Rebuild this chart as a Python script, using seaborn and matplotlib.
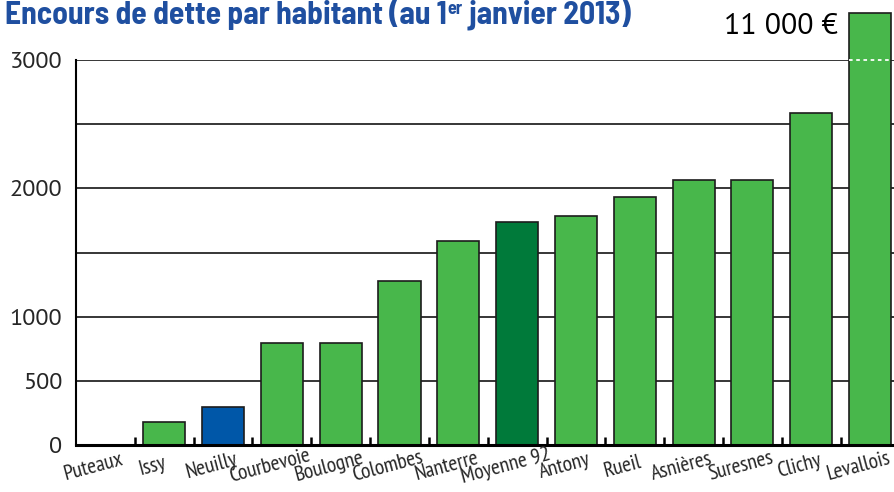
import matplotlib
matplotlib.use("Agg")
import matplotlib.pyplot as plt
import seaborn as sns
import pandas as pd
from matplotlib.ticker import FixedLocator

# ---- data ----
cities = ["Puteaux", "Issy", "Neuilly", "Courbevoie", "Boulogne", "Colombes",
          "Nanterre", "Moyenne 92", "Antony", "Rueil", "Asnières", "Suresnes",
          "Clichy", "Levallois"]
debt = [0, 182, 294, 797, 797, 1278, 1590, 1740, 1785, 1930, 2063, 2065, 2585, 11000]
ytick_values = [0, 500, 1000, 2000, 3000]
grid_values = [500, 1000, 1500, 2000, 2500, 3000]
title_main = "Encours de dette par habitant (au 1"
title_sup = "er"
title_end = " janvier 2013)"
levallois_label = "11 000 €"

# ---- style ----
GREEN = "#48b74b"
DARK_GREEN = "#007a3a"
BLUE = "#0057a8"
TITLE_BLUE = "#1f4fa0"
colors = {c: GREEN for c in cities}
colors["Neuilly"] = BLUE
colors["Moyenne 92"] = DARK_GREEN
display_cap = 3370  # broken bar drawn above the axis for off-scale value

REG = ["PT Sans", "Open Sans", "DejaVu Sans"]
NARROW = ["PT Sans Narrow", "Archivo Narrow", "Asap Condensed", "DejaVu Sans"]
TITLEF = ["Barlow Semi Condensed", "Barlow Condensed", "DejaVu Sans"]

sns.set_theme(style="white")
plt.rcParams["font.family"] = REG

df = pd.DataFrame({"ville": cities,
                   "dette": [min(v, display_cap) for v in debt]})

fig = plt.figure(figsize=(8.94, 4.92), dpi=100)
ax = fig.add_axes([76 / 894, 47 / 492, (899.5 - 76) / 894, (445 - 60) / 492])

for g in grid_values:
    ax.axhline(g, color="black", lw=1.1, zorder=0)

sns.barplot(data=df, x="ville", y="dette", hue="ville", palette=colors,
            legend=False, width=0.715, edgecolor="#1c1c1c", linewidth=1.2,
            saturation=1, ax=ax, zorder=2)
for p in ax.patches:
    p.set_clip_on(False)

ax.set_ylim(0, 3000)
ax.set_xlim(-0.5, len(cities) - 0.5)
ax.set_xlabel("")
ax.set_ylabel("")

# white dotted line on the broken bar at the 3000 level
ax.plot([len(cities) - 1 - 0.36, len(cities) - 1 + 0.36], [3000, 3000],
        color="white", lw=1.3, ls=(0, (2, 2)), zorder=3, clip_on=False)

ax.text(len(cities) - 1.54, 3262, levallois_label, ha="right", va="center",
        fontsize=21.5, color="black", clip_on=False, family=REG)

# y axis
ax.set_yticks(ytick_values)
ax.set_yticklabels([str(v) for v in ytick_values], fontsize=17.5, family=REG)
ax.tick_params(axis="y", length=0, pad=10)

# x axis: labels at centres, small ticks at boundaries
ax.set_xticks(range(len(cities)))
ax.set_xticklabels([])
ax.xaxis.set_minor_locator(FixedLocator([i + 0.5 for i in range(len(cities) - 1)]))
ax.tick_params(axis="x", which="major", length=0)
ax.tick_params(axis="x", which="minor", direction="in", length=6, width=1.8,
               color="black", bottom=True)
for i, c in enumerate(cities):
    ax.text(i - 0.24, -95, c, rotation=15, rotation_mode="anchor",
            ha="center", va="top", fontsize=15.5, family=NARROW,
            transform=ax.transData, clip_on=False)

for s in ["top", "right"]:
    ax.spines[s].set_visible(False)
ax.spines["left"].set_color("black")
ax.spines["left"].set_linewidth(1.5)
ax.spines["bottom"].set_color("black")
ax.spines["bottom"].set_linewidth(2.2)

# title with superscript, pieces placed by measuring
tfont = dict(fontsize=22.7, fontweight="bold", color=TITLE_BLUE, family=TITLEF)
base_y = 1 - 24 / 492
t1 = fig.text(5 / 894, base_y, title_main, ha="left", va="baseline", **tfont)
r = fig.canvas.get_renderer()
x1 = fig.transFigure.inverted().transform(t1.get_window_extent(r).p1)[0]
sup = fig.text(x1 + 1 / 894, base_y + 10 / 492, title_sup, ha="left", va="baseline",
               fontsize=13, fontweight="bold", color=TITLE_BLUE, family=TITLEF)
x2 = fig.transFigure.inverted().transform(sup.get_window_extent(r).p1)[0]
fig.text(x2, base_y, title_end, ha="left", va="baseline", **tfont)

fig.savefig("out.png", dpi=100)
